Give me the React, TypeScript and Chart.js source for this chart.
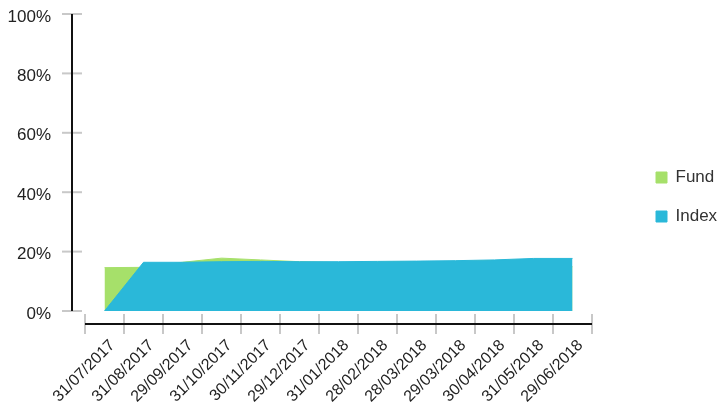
import React, { useEffect, useRef } from 'react';
import { Chart, registerables } from 'chart.js';

Chart.register(...registerables);

const categories = [
  '31/07/2017', '31/08/2017', '29/09/2017', '31/10/2017', '30/11/2017', '29/12/2017',
  '31/01/2018', '28/02/2018', '28/03/2018', '29/03/2018', '30/04/2018', '31/05/2018', '29/06/2018',
];
const fundValues = [14.6, 14.7, 16.4, 17.8, 17.2, 16.6, 16.3, 16.5, 16.6, 16.7, 17.0, 17.4, 14.9];
const indexValues = [0, 16.4, 16.4, 16.6, 16.7, 16.6, 16.6, 16.7, 16.8, 16.95, 17.2, 17.7, 17.7];
const yTickValues = [0, 20, 40, 60, 80, 100];

const FUND_COLOR = '#A6E06A';
const INDEX_COLOR = '#2AB8D9';
const FONT = '"Liberation Sans", Arial, Helvetica, sans-serif';

const offsetAxesPlugin = {
  id: 'offsetAxes',
  afterDraw(chart: any) {
    const { ctx, chartArea, scales } = chart;
    const xs = scales.x;
    const ys = scales.y;
    const axisX = chartArea.left - 13;
    const axisY = chartArea.bottom + 13;
    const line = (x1: number, y1: number, x2: number, y2: number) => {
      ctx.beginPath();
      ctx.moveTo(x1, y1);
      ctx.lineTo(x2, y2);
      ctx.stroke();
    };
    ctx.save();
    ctx.lineWidth = 2;
    ctx.strokeStyle = '#c8c8c8';
    yTickValues.forEach((v) => {
      const py = ys.getPixelForValue(v);
      line(axisX - 10, py, axisX + 10, py);
    });
    for (let i = 0; i <= categories.length; i++) {
      const px = xs.getPixelForValue(i - 0.5);
      line(px, axisY - 10, px, axisY + 10);
    }
    ctx.strokeStyle = '#111111';
    line(axisX, ys.getPixelForValue(100), axisX, ys.getPixelForValue(0));
    line(xs.getPixelForValue(-0.5), axisY, xs.getPixelForValue(categories.length - 0.5), axisY);
    ctx.restore();
  },
};

const legendPlacePlugin = {
  id: 'legendPlace',
  afterLayout(chart: any) {
    const lg = chart.legend;
    if (!lg) return;
    const dx = chart.chartArea.right + 42 - lg.left;
    lg.left += dx;
    lg.right += dx;
    lg.top -= 7;
    lg.bottom -= 7;
  },
};

export default function App() {
  const canvasRef = useRef<HTMLCanvasElement | null>(null);

  useEffect(() => {
    document.body.style.margin = '0';
    const canvas = canvasRef.current;
    if (!canvas) return;
    const chart = new Chart(canvas, {
      type: 'line',
      data: {
        labels: categories,
        datasets: [
          {
            label: 'Index',
            data: indexValues,
            backgroundColor: INDEX_COLOR,
            borderColor: INDEX_COLOR,
            borderWidth: 1,
            pointRadius: 0,
            tension: 0,
            fill: 'origin',
          },
          {
            label: 'Fund',
            data: fundValues,
            backgroundColor: FUND_COLOR,
            borderColor: FUND_COLOR,
            borderWidth: 1,
            pointRadius: 0,
            tension: 0,
            fill: 'origin',
          },
        ],
      },
      options: {
        animation: false,
        responsive: false,
        maintainAspectRatio: false,
        layout: { padding: 0 },
        plugins: {
          tooltip: { enabled: false },
          legend: {
            position: 'right',
            labels: {
              boxWidth: 11,
              boxHeight: 11,
              padding: 22,
              color: '#333333',
              font: { family: FONT, size: 17 },
              sort: (a: any, b: any) => b.datasetIndex - a.datasetIndex,
            },
          },
        },
        scales: {
          x: {
            type: 'category',
            offset: true,
            grid: { display: false, drawTicks: false },
            border: { display: false },
            ticks: {
              autoSkip: false,
              minRotation: 45,
              maxRotation: 45,
              padding: 25,
              labelOffset: 8,
              color: '#222222',
              font: { family: FONT, size: 16 },
            },
            afterFit: (scale: any) => {
              scale.height = 97;
              scale.paddingLeft = 0;
              scale.paddingRight = 130;
            },
          },
          y: {
            min: 0,
            max: 100,
            grid: { display: false, drawTicks: false },
            border: { display: false },
            afterBuildTicks: (scale: any) => {
              scale.ticks = yTickValues.map((v) => ({ value: v }));
            },
            ticks: {
              padding: 34,
              labelOffset: 3,
              color: '#222222',
              font: { family: FONT, size: 17 },
              callback: (v: any) => `${v}%`,
            },
            afterFit: (scale: any) => {
              scale.width = 85;
              scale.paddingTop = 14;
            },
          },
        },
      },
      plugins: [offsetAxesPlugin, legendPlacePlugin],
    });
    return () => chart.destroy();
  }, []);

  return (
    <div style={{ width: 722, height: 408, position: 'relative' }}>
      <canvas ref={canvasRef} width={722} height={408} style={{ display: 'block' }} />
    </div>
  );
}
